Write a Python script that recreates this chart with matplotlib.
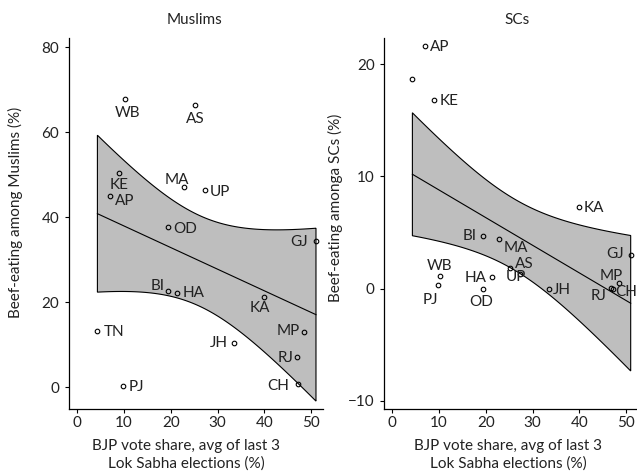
import numpy as np
import matplotlib
matplotlib.use("Agg")
import matplotlib.pyplot as plt

plt.rcParams['font.family'] = ['Lato', 'DejaVu Sans']

# ---------------- data ----------------
states = ['WB', 'AS', 'KE', 'AP', 'MA', 'UP', 'OD', 'GJ', 'BI',
          'HA', 'KA', 'TN', 'MP', 'JH', 'RJ', 'PJ', 'CH']
bjp_share = [10.3, 25.2, 9.0, 6.9, 22.75, 27.3, 19.3, 51.0, 19.3,
             21.4, 39.9, 4.3, 48.5, 33.5, 46.85, 9.75, 47.2]
beef_muslims = [67.7, 66.3, 50.5, 45.0, 47.1, 46.4, 37.6, 34.4, 22.7,
                22.2, 21.3, 13.2, 13.0, 10.4, 7.0, 0.2, 0.7]
beef_scs = [1.16, 1.84, 16.77, 21.57, 4.41, 1.3, 0.0, 2.96, 4.65,
            1.0, 7.32, 18.64, 0.47, 0.0, 0.03, 0.3, 0.0]
muslim_yticks = [0, 20, 40, 60, 80]
sc_yticks = [-10, 0, 10, 20]
xticks = [0, 10, 20, 30, 40, 50]
T_975 = 2.131  # t quantile, df = 15

# ---------------- label placement (style, pixels: dx, dy up of cap centre) ----------------
mus_lab = {'WB': (2, -12.5, 'center'), 'AS': (0, -12.3, 'center'), 'KE': (0, -11, 'center'),
           'AP': (5.7, -3.7, 'left'), 'MA': (-6.7, 8.3, 'center'), 'UP': (4.7, -0.7, 'left'),
           'OD': (5.7, -0.7, 'left'), 'GJ': (-7.7, 0, 'right'), 'BI': (-2.7, 5.7, 'right'),
           'HA': (5.3, 1, 'left'), 'KA': (-3.7, -10.3, 'center'), 'TN': (6.7, 0, 'left'),
           'MP': (-4.3, 2, 'right'), 'JH': (-5.7, 0.5, 'right'), 'RJ': (-3, 0, 'right'),
           'PJ': (6, 0, 'left'), 'CH': (-8.7, -0.7, 'right')}
sc_lab = {'AP': (5.3, 0, 'left'), 'KE': (5, 0, 'left'), 'KA': (5.3, 0, 'left'),
          'BI': (-5.7, 1.3, 'right'), 'MA': (5.3, -8, 'left'), 'AS': (4.7, 5.3, 'left'),
          'UP': (-4.3, -2.3, 'center'), 'WB': (-1, 11, 'center'), 'HA': (-5.7, 0, 'right'),
          'PJ': (-7, -13.3, 'center'), 'OD': (-1.7, -12, 'center'), 'JH': (4.3, 0, 'left'),
          'GJ': (-7.3, 2.8, 'right'), 'MP': (-7.3, 8, 'center'), 'RJ': (-5, -6.3, 'right'),
          'CH': (2.5, -2.7, 'left')}

FS = 11.0
CAP_HALF = 5.0  # px

W, H = 637, 472
fig = plt.figure(figsize=(W / 100, H / 100), dpi=100)


def px_axes(l, t, r, b):
    return fig.add_axes([l / W, 1 - b / H, (r - l) / W, (b - t) / H])


def panel(ax, x, y, labels, placement, xlim, ylim, yticks):
    x = np.asarray(x, float)
    y = np.asarray(y, float)
    n = len(x)
    b, a = np.polyfit(x, y, 1)
    resid = y - (a + b * x)
    s = np.sqrt(np.sum(resid ** 2) / (n - 2))
    xm = x.mean()
    sxx = np.sum((x - xm) ** 2)
    xs = np.linspace(x.min(), x.max(), 300)
    fit = a + b * xs
    hw = T_975 * s * np.sqrt(1 / n + (xs - xm) ** 2 / sxx)
    up, lo = fit + hw, fit - hw
    px = np.concatenate([xs, xs[::-1], xs[:1]])
    py = np.concatenate([up, lo[::-1], up[:1]])
    ax.fill(px, py, facecolor='#BEBEBE', edgecolor='black', linewidth=0.8, zorder=1)
    ax.plot(xs, fit, color='black', linewidth=0.8, zorder=2)
    ax.plot(x, y, 'o', mfc='none', mec='black', ms=3.3, mew=0.8, zorder=3, clip_on=False)
    for xi, yi, lab in zip(x, y, labels):
        if lab not in placement:
            continue
        dx, dy, ha = placement[lab]
        ax.annotate(lab, (xi, yi), xytext=(dx, dy - CAP_HALF), textcoords='offset pixels',
                    ha=ha, va='baseline', fontsize=FS, color='#222222', zorder=4,
                    annotation_clip=False)
    ax.set_xlim(*xlim)
    ax.set_ylim(*ylim)
    ax.set_xticks(xticks)
    ax.set_yticks(yticks)
    for sp in ['top', 'right']:
        ax.spines[sp].set_visible(False)
    for sp in ['left', 'bottom']:
        ax.spines[sp].set_linewidth(0.9)
    ax.tick_params(direction='out', length=3, width=0.8, labelsize=FS,
                   labelcolor='#222222')
    ax.tick_params(axis='x', pad=1.5)
    ax.tick_params(axis='y', pad=4)
    ax.patch.set_alpha(0)


axL = px_axes(69, 38.3, 323, 409.3)
axR = px_axes(384.3, 38.3, 637.7, 409.3)

panel(axL, bjp_share, beef_muslims, states, mus_lab, (-1.77, 52.5), (-5.25, 82.1), muslim_yticks)
panel(axR, bjp_share, beef_scs, states, sc_lab, (-1.71, 52.5), (-10.74, 22.3), sc_yticks)

fig.text(195 / W, 1 - 20 / H, 'Muslims', ha='center', va='center', fontsize=FS, color='#222222')
fig.text(517 / W, 1 - 20 / H, 'SCs', ha='center', va='center', fontsize=FS, color='#222222')
xl = 'BJP vote share, avg of last 3\nLok Sabha elections (%)'
fig.text(186 / W, 1 - 455 / H, xl, ha='center', va='center', fontsize=FS,
         color='#222222', linespacing=1.25)
fig.text(508 / W, 1 - 455 / H, xl, ha='center', va='center', fontsize=FS,
         color='#222222', linespacing=1.25)
fig.text(15 / W, 1 - 212 / H, 'Beef-eating among Muslims (%)', ha='center', va='center',
         rotation=90, fontsize=FS, color='#222222')
fig.text(335 / W, 1 - 208 / H, 'Beef-eating amonga SCs (%)', ha='center', va='center',
         rotation=90, fontsize=FS, color='#222222')

fig.savefig('out.png', dpi=100)
